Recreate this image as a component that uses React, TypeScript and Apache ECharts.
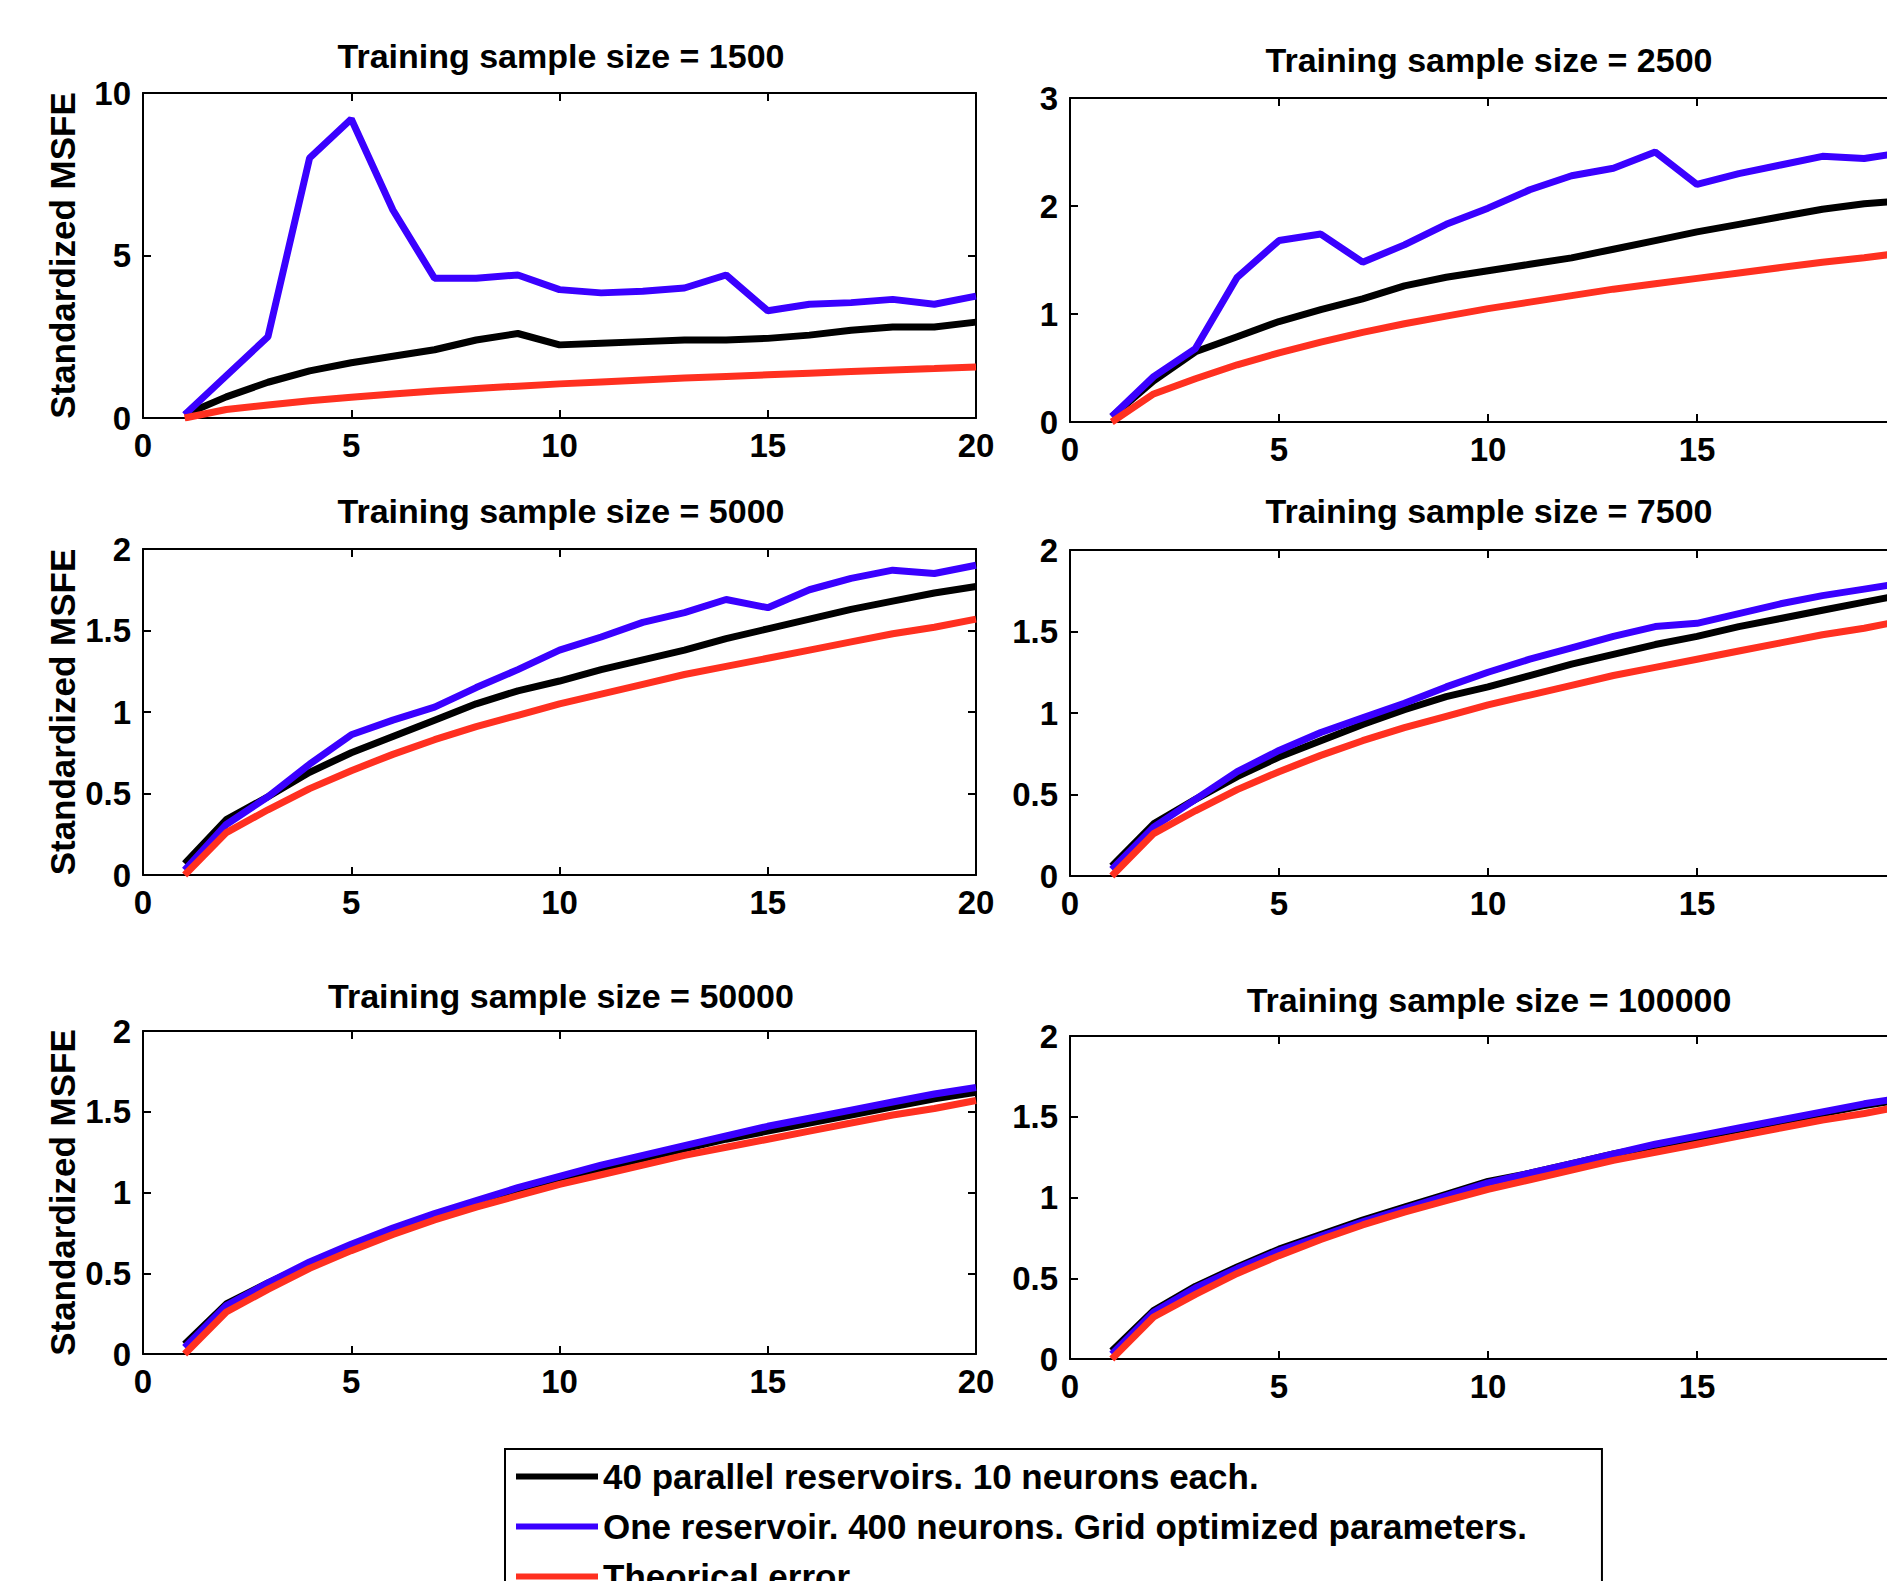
import React, { useEffect, useRef } from "react";
import * as echarts from "echarts";

const X = [1, 2, 3, 4, 5, 6, 7, 8, 9, 10, 11, 12, 13, 14, 15, 16, 17, 18, 19, 20];

const NAME_BLACK = "40 parallel reservoirs. 10 neurons each.";
const NAME_BLUE = "One reservoir. 400 neurons. Grid optimized parameters.";
const NAME_RED = "Theorical error";

const titles = [
  "Training sample size = 1500",
  "Training sample size = 2500",
  "Training sample size = 5000",
  "Training sample size = 7500",
  "Training sample size = 50000",
  "Training sample size = 100000",
];

const theoretical = [0, 0.26, 0.4, 0.53, 0.64, 0.74, 0.83, 0.91, 0.98, 1.05, 1.11, 1.17, 1.23, 1.28, 1.33, 1.38, 1.43, 1.48, 1.52, 1.57];

const black1500 = [0.1, 0.65, 1.1, 1.45, 1.7, 1.9, 2.1, 2.4, 2.6, 2.25, 2.3, 2.35, 2.4, 2.4, 2.45, 2.55, 2.7, 2.8, 2.8, 2.95];
const blue1500 = [0.1, 1.3, 2.5, 8.0, 9.2, 6.4, 4.3, 4.3, 4.4, 3.95, 3.85, 3.9, 4.0, 4.4, 3.3, 3.5, 3.55, 3.65, 3.5, 3.75];

const black2500 = [0.05, 0.38, 0.65, 0.79, 0.93, 1.04, 1.14, 1.26, 1.34, 1.4, 1.46, 1.52, 1.6, 1.68, 1.76, 1.83, 1.9, 1.97, 2.02, 2.05];
const blue2500 = [0.05, 0.42, 0.68, 1.34, 1.68, 1.74, 1.48, 1.64, 1.83, 1.98, 2.15, 2.28, 2.35, 2.5, 2.2, 2.3, 2.38, 2.46, 2.44, 2.5];

const black5000 = [0.07, 0.34, 0.48, 0.63, 0.75, 0.85, 0.95, 1.05, 1.13, 1.19, 1.26, 1.32, 1.38, 1.45, 1.51, 1.57, 1.63, 1.68, 1.73, 1.77];
const blue5000 = [0.03, 0.31, 0.48, 0.68, 0.86, 0.95, 1.03, 1.15, 1.26, 1.38, 1.46, 1.55, 1.61, 1.69, 1.64, 1.75, 1.82, 1.87, 1.85, 1.9];

const black7500 = [0.06, 0.32, 0.47, 0.61, 0.73, 0.83, 0.93, 1.02, 1.1, 1.16, 1.23, 1.3, 1.36, 1.42, 1.47, 1.53, 1.58, 1.63, 1.68, 1.73];
const blue7500 = [0.04, 0.3, 0.47, 0.64, 0.77, 0.88, 0.97, 1.06, 1.16, 1.25, 1.33, 1.4, 1.47, 1.53, 1.55, 1.61, 1.67, 1.72, 1.76, 1.8];

const black50000 = [0.06, 0.31, 0.44, 0.56, 0.67, 0.77, 0.86, 0.94, 1.02, 1.09, 1.15, 1.21, 1.27, 1.33, 1.38, 1.43, 1.48, 1.53, 1.58, 1.62];
const blue50000 = [0.04, 0.3, 0.44, 0.57, 0.68, 0.78, 0.87, 0.95, 1.03, 1.1, 1.17, 1.23, 1.29, 1.35, 1.41, 1.46, 1.51, 1.56, 1.61, 1.65];

const black100000 = [0.05, 0.3, 0.45, 0.57, 0.68, 0.77, 0.86, 0.94, 1.02, 1.1, 1.15, 1.21, 1.27, 1.32, 1.37, 1.42, 1.47, 1.52, 1.57, 1.61];
const blue100000 = [0.03, 0.29, 0.44, 0.56, 0.67, 0.76, 0.85, 0.93, 1.01, 1.09, 1.15, 1.21, 1.27, 1.33, 1.38, 1.43, 1.48, 1.53, 1.58, 1.62];

const blackSets = [black1500, black2500, black5000, black7500, black50000, black100000];
const blueSets = [blue1500, blue2500, blue5000, blue7500, blue50000, blue100000];

const yMax = [10, 3, 2, 2, 2, 2];
const yInterval = [5, 1, 0.5, 0.5, 0.5, 0.5];

const FONT = '"Liberation Sans", Arial, Helvetica, sans-serif';
const C_BLACK = "#000000";
const C_BLUE = "#3A00FF";
const C_RED = "#FF3020";

// panel layout [left, top, width, height] and title centre
const panels = [
  { left: 143, top: 93, width: 833, height: 325, tx: 561, ty: 56 },
  { left: 1070, top: 98, width: 836, height: 324, tx: 1489, ty: 60 },
  { left: 143, top: 549, width: 833, height: 326, tx: 561, ty: 511 },
  { left: 1070, top: 550, width: 836, height: 326, tx: 1489, ty: 511 },
  { left: 143, top: 1031, width: 833, height: 323, tx: 561, ty: 996 },
  { left: 1070, top: 1036, width: 836, height: 323, tx: 1489, ty: 1000 },
];

function buildOption() {
  const grid: any[] = [];
  const xAxis: any[] = [];
  const yAxis: any[] = [];
  const series: any[] = [];
  const graphic: any[] = [];

  const axisLine = { show: true, onZero: false, lineStyle: { color: "#000", width: 2 } };
  const axisTick = { show: true, inside: true, length: 8, lineStyle: { color: "#000", width: 2 } };
  const labelStyle = { fontSize: 33, fontWeight: "bold", color: "#000", fontFamily: FONT };

  panels.forEach((p, i) => {
    grid.push({
      left: p.left,
      top: p.top,
      width: p.width,
      height: p.height,
      containLabel: false,
      outerBoundsMode: "none",
    });
    const xBase = {
      gridIndex: i,
      type: "value",
      min: 0,
      max: 20,
      interval: 5,
      axisLine,
      axisTick,
      splitLine: { show: false },
    };
    xAxis.push({ ...xBase, position: "bottom", axisLabel: { ...labelStyle, margin: 11 } });
    xAxis.push({ ...xBase, position: "top", axisLabel: { show: false } });
    const yBase = {
      gridIndex: i,
      type: "value",
      min: 0,
      max: yMax[i],
      interval: yInterval[i],
      axisLine,
      axisTick,
      splitLine: { show: false },
    };
    const leftCol = i % 2 === 0;
    yAxis.push({
      ...yBase,
      position: "left",
      axisLabel: { ...labelStyle, margin: 12 },
      ...(leftCol
        ? {
            name: "Standardized MSFE",
            nameLocation: "middle",
            nameRotate: 90,
            nameGap: 63,
            nameTextStyle: { fontSize: 35, fontWeight: "bold", color: "#000", fontFamily: FONT },
          }
        : {}),
    });
    yAxis.push({ ...yBase, position: "right", axisLabel: { show: false } });

    const mk = (name: string, arr: number[], color: string, z: number) => ({
      name,
      type: "line",
      xAxisIndex: 2 * i,
      yAxisIndex: 2 * i,
      data: X.map((x, k) => [x, arr[k]]),
      symbol: "none",
      showSymbol: false,
      silent: true,
      z,
      color,
      lineStyle: { color, width: 7 },
      itemStyle: { color },
    });
    series.push(mk(NAME_BLACK, blackSets[i], C_BLACK, 2));
    series.push(mk(NAME_BLUE, blueSets[i], C_BLUE, 3));
    series.push(mk(NAME_RED, theoretical, C_RED, 4));

    graphic.push({
      type: "text",
      x: p.tx,
      y: p.ty,
      silent: true,
      style: {
        text: titles[i],
        align: "center",
        verticalAlign: "middle",
        fontSize: 34,
        fontWeight: "bold",
        fontFamily: FONT,
        fill: "#000",
      },
    });
  });

  return {
    animation: false,
    backgroundColor: "#ffffff",
    grid,
    xAxis,
    yAxis,
    series,
    graphic,
    legend: {
      show: true,
      orient: "vertical",
      left: 505,
      top: 1449,
      data: [NAME_BLACK, NAME_BLUE, NAME_RED],
      icon: "rect",
      itemWidth: 82,
      itemHeight: 6,
      itemGap: 15,
      padding: [10, 75, 11, 11],
      borderColor: "#000",
      borderWidth: 2,
      selectedMode: false,
      textStyle: { fontSize: 35, fontWeight: "bold", color: "#000", fontFamily: FONT },
    },
  };
}

export default function App() {
  const ref = useRef<HTMLDivElement>(null);
  useEffect(() => {
    if (!ref.current) return;
    const chart = echarts.init(ref.current, undefined, { renderer: "svg" });
    chart.setOption(buildOption() as any);
    return () => chart.dispose();
  }, []);
  return (
    <div
      style={{
        position: "absolute",
        left: 0,
        top: 0,
        width: 1887,
        height: 1581,
        overflow: "hidden",
        background: "#fff",
      }}
    >
      <div ref={ref} style={{ width: 2000, height: 1640 }} />
    </div>
  );
}
